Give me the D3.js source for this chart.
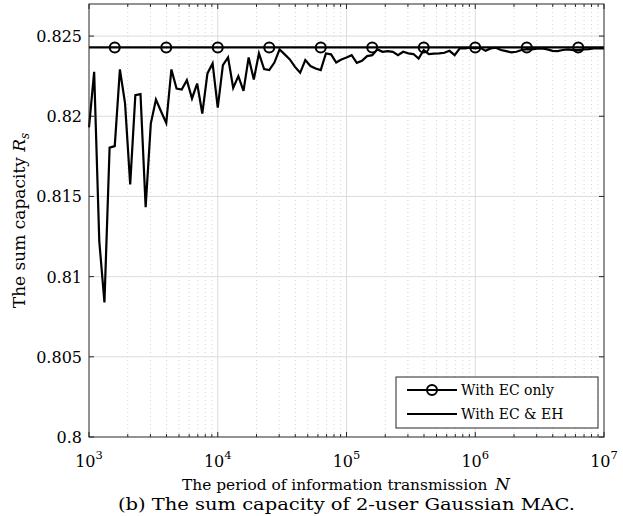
<!DOCTYPE html>
<html><head><meta charset="utf-8">
<script src="https://cdn.jsdelivr.net/npm/d3@7"></script>
<style>body{margin:0;background:#fff}svg{display:block}</style>
</head><body><svg id="c" width="623" height="516" font-family="'DejaVu Serif', serif"></svg>
<script>
// exponents of N (N = 10^e)
const logN = [3.00,3.04,3.08,3.12,3.16,3.20,3.24,3.28,3.32,3.36,3.40,3.44,3.48,3.52,3.56,3.60,3.64,3.68,3.72,3.76,
3.80,3.84,3.88,3.92,3.96,4.00,4.04,4.08,4.12,4.16,4.20,4.24,4.28,4.32,4.36,4.40,4.44,4.48,4.52,4.56,
4.60,4.64,4.68,4.72,4.76,4.80,4.84,4.88,4.92,4.96,5.00,5.04,5.08,5.12,5.16,5.20,5.24,5.28,5.32,5.36,
5.40,5.44,5.48,5.52,5.56,5.60,5.64,5.68,5.72,5.76,5.80,5.84,5.88,5.92,5.96,6.00,6.04,6.08,6.12,6.16,
6.20,6.24,6.28,6.32,6.36,6.40,6.44,6.48,6.52,6.56,6.60,6.64,6.68,6.72,6.76,6.80,6.84,6.88,6.92,6.96,7.00];
// With EC & EH
const ecEH = [0.81931,0.82277,0.81220,0.80839,0.81804,0.81814,0.82292,0.82080,0.81575,0.82131,
0.82138,0.81433,0.81954,0.82104,0.82030,0.81958,0.82292,0.82173,0.82167,0.82225,
0.82111,0.82204,0.82017,0.82267,0.82329,0.82054,0.82319,0.82367,0.82177,0.82250,
0.82158,0.82367,0.82229,0.82392,0.82294,0.82288,0.82335,0.82417,0.82386,0.82354,
0.82308,0.82271,0.82350,0.82313,0.82298,0.82288,0.82392,0.82386,0.82335,0.82354,
0.82367,0.82381,0.82333,0.82346,0.82375,0.82381,0.82417,0.82402,0.82406,0.82402,
0.82381,0.82402,0.82392,0.82388,0.82360,0.82413,0.82388,0.82390,0.82392,0.82396,
0.82408,0.82381,0.82423,0.82423,0.82427,0.82423,0.82427,0.82408,0.82423,0.82427,
0.82413,0.82406,0.82398,0.82402,0.82413,0.82419,0.82417,0.82421,0.82423,0.82417,
0.82408,0.82406,0.82413,0.82417,0.82413,0.82413,0.82417,0.82419,0.82423,0.82423,0.82423];
// With EC only (constant)
const ecOnlyValue = 0.82429;
const ecOnlyMarkerExp = [3.2,3.6,4.0,4.4,4.8,5.2,5.6,6.0,6.4,6.8];
const yTicks = [0.8,0.805,0.81,0.815,0.82,0.825];
const yTickLabels = ["0.8","0.805","0.81","0.815","0.82","0.825"];
const xTickExp = [3,4,5,6,7];
const legendLabels = ["With EC only","With EC & EH"];

const svg = d3.select("#c");
const L=89, R=604, T=4, B=437;
const x = d3.scaleLog().domain([1e3,1e7]).range([L,R]);
const y = d3.scaleLinear().domain([0.8,0.827]).range([B,T]);
const FS=16;

// grid
const g = svg.append("g");
const minors=[];
for(let e=3;e<7;e++) for(let m=2;m<=9;m++) minors.push(m*Math.pow(10,e));
g.selectAll(".mg").data(minors).join("line")
 .attr("x1",d=>x(d)).attr("x2",d=>x(d)).attr("y1",T).attr("y2",B)
 .attr("stroke","#c8c8c8").attr("stroke-width",0.8).attr("stroke-dasharray","1,3");
g.selectAll(".xg").data(xTickExp.slice(1,-1)).join("line")
 .attr("x1",d=>x(Math.pow(10,d))).attr("x2",d=>x(Math.pow(10,d))).attr("y1",T).attr("y2",B)
 .attr("stroke","#dcdcdc").attr("stroke-width",1);
g.selectAll(".yg").data(yTicks.slice(1)).join("line")
 .attr("x1",L).attr("x2",R).attr("y1",d=>y(d)).attr("y2",d=>y(d))
 .attr("stroke","#dcdcdc").attr("stroke-width",1);

// ticks (inward on all four sides)
const tk = svg.append("g").attr("stroke","#262626").attr("stroke-width",1);
xTickExp.forEach(e=>{const X=x(Math.pow(10,e));
 tk.append("line").attr("x1",X).attr("x2",X).attr("y1",B).attr("y2",B-5);
 tk.append("line").attr("x1",X).attr("x2",X).attr("y1",T).attr("y2",T+5);});
minors.forEach(v=>{const X=x(v);
 tk.append("line").attr("x1",X).attr("x2",X).attr("y1",B).attr("y2",B-3);
 tk.append("line").attr("x1",X).attr("x2",X).attr("y1",T).attr("y2",T+3);});
yTicks.forEach(v=>{const Y=y(v);
 tk.append("line").attr("x1",L).attr("x2",L+5).attr("y1",Y).attr("y2",Y);
 tk.append("line").attr("x1",R).attr("x2",R-5).attr("y1",Y).attr("y2",Y);});

// lines
const line = d3.line().x(d=>x(Math.pow(10,d[0]))).y(d=>y(d[1]));
svg.append("path").datum(logN.map((e,i)=>[e,ecEH[i]])).attr("d",line)
 .attr("fill","none").attr("stroke","#000").attr("stroke-width",2.2).attr("stroke-linejoin","miter");
svg.append("path").datum([[3,ecOnlyValue],[7,ecOnlyValue]]).attr("d",line)
 .attr("fill","none").attr("stroke","#000").attr("stroke-width",2.2);
svg.selectAll(".mk").data(ecOnlyMarkerExp).join("circle")
 .attr("cx",d=>x(Math.pow(10,d))).attr("cy",y(ecOnlyValue)).attr("r",5)
 .attr("fill","none").attr("stroke","#000").attr("stroke-width",2);

// frame
svg.append("rect").attr("x",L).attr("y",T).attr("width",R-L).attr("height",B-T)
 .attr("fill","none").attr("stroke","#262626").attr("stroke-width",1);

// tick labels
svg.selectAll(".yl").data(yTicks).join("text")
 .attr("x",L-7).attr("y",d=>y(d)+6).attr("text-anchor","end").attr("font-size",FS)
 .text((d,i)=>yTickLabels[i]);
xTickExp.forEach(e=>{
 const t=svg.append("text").attr("x",x(Math.pow(10,e))).attr("y",467).attr("text-anchor","middle").attr("font-size",FS);
 t.append("tspan").text("10");
 t.append("tspan").attr("dy",-8).attr("font-size",11.5).text(e);
});

// axis titles
svg.append("text").attr("x",182).attr("y",490).attr("font-size",15.4)
 .text("The period of information transmission");
svg.append("text").attr("x",495).attr("y",490).attr("font-size",17).attr("font-style","italic").text("N");
svg.append("text").attr("x",(L+R)/2).attr("y",510).attr("text-anchor","middle").attr("font-size",17)
 .attr("textLength",457).attr("lengthAdjust","spacingAndGlyphs")
 .text("(b) The sum capacity of 2-user Gaussian MAC.");
const yt=svg.append("text").attr("transform",`translate(25,${(T+B)/2}) rotate(-90)`).attr("text-anchor","middle").attr("font-size",17);
yt.append("tspan").text("The sum capacity ");
yt.append("tspan").attr("font-style","italic").text("R");
yt.append("tspan").attr("font-style","italic").attr("font-size",12).attr("dy",4).text("s");

// legend
const lg = svg.append("g");
lg.append("rect").attr("x",396).attr("y",377).attr("width",202).attr("height",51)
 .attr("fill","#fff").attr("stroke","#262626").attr("stroke-width",1);
legendLabels.forEach((lab,i)=>{
 const Y=390+i*24;
 lg.append("line").attr("x1",407).attr("x2",457).attr("y1",Y).attr("y2",Y).attr("stroke","#000").attr("stroke-width",2.2);
 if(i===0) lg.append("circle").attr("cx",432).attr("cy",Y).attr("r",5).attr("fill","none").attr("stroke","#000").attr("stroke-width",2);
 lg.append("text").attr("x",461).attr("y",Y+5).attr("font-size",14).text(lab);
});
</script></body></html>
